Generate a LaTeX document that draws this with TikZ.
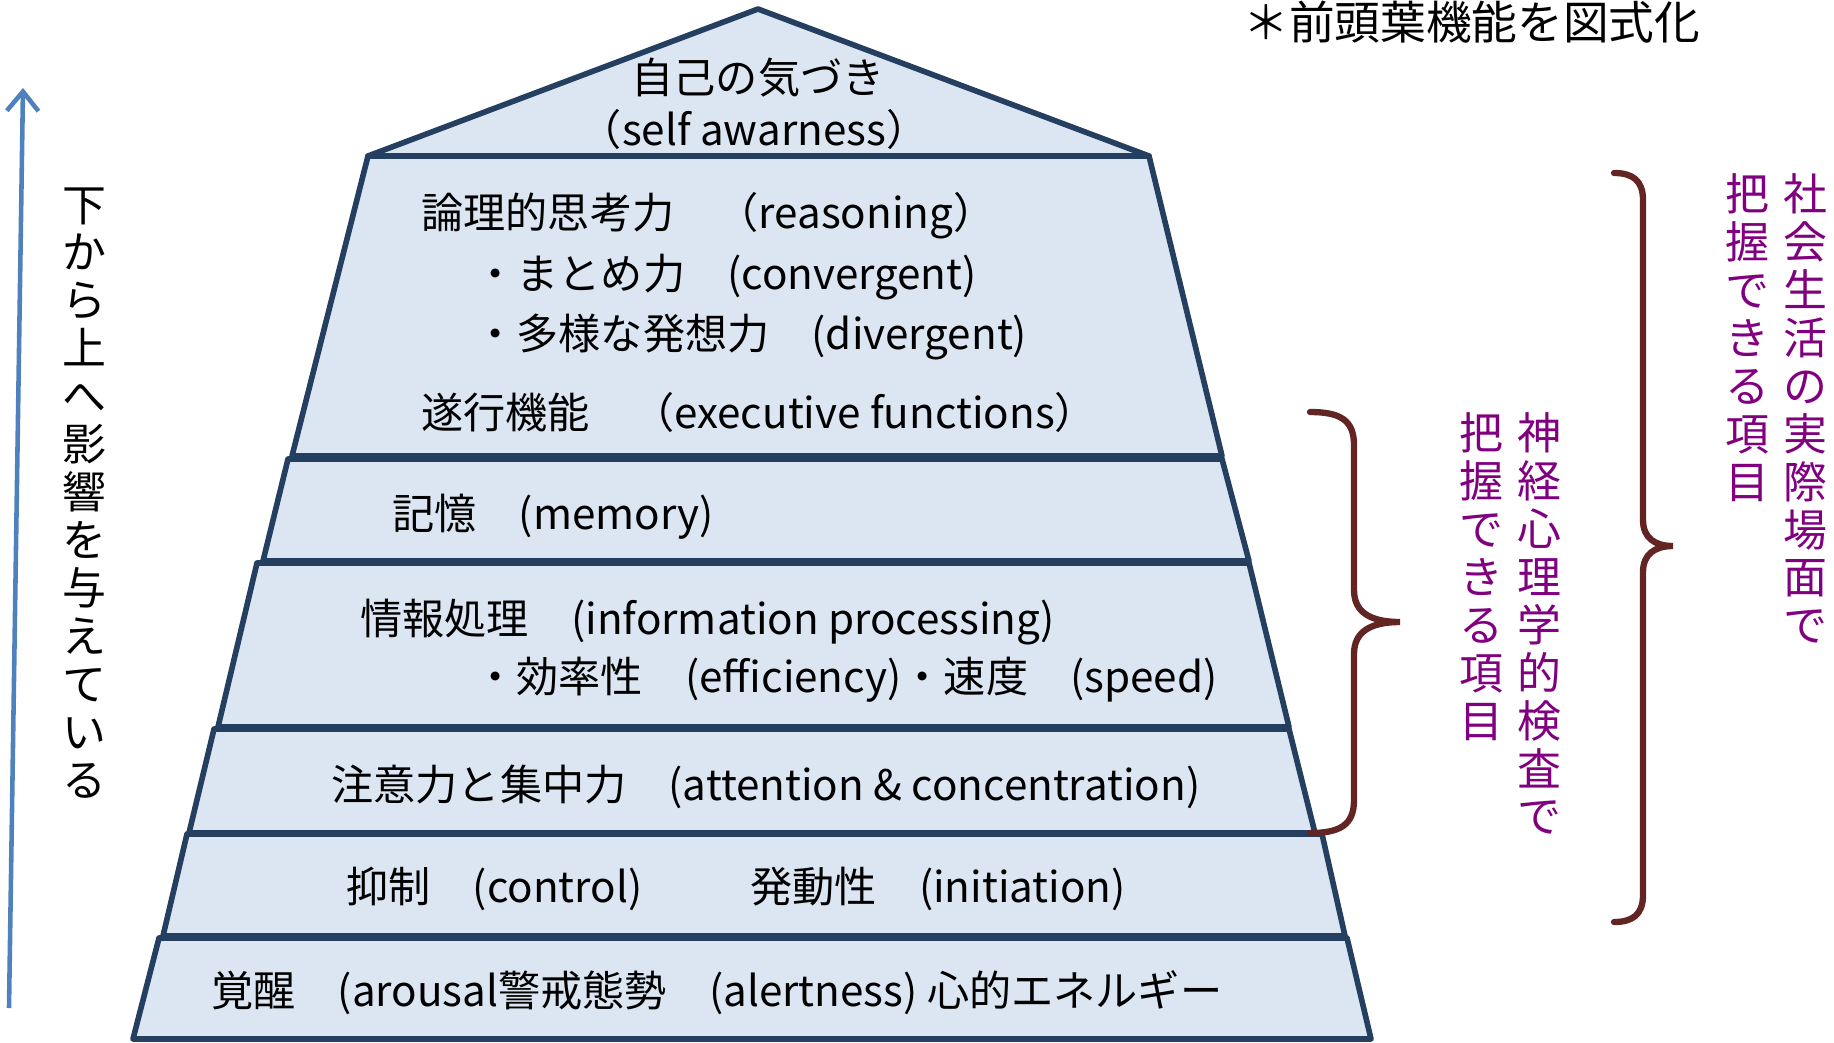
\documentclass[tikz,border=0pt]{standalone}
\usepackage{fontspec}
\setmainfont{Noto Sans CJK JP}
\usetikzlibrary{arrows.meta}

\definecolor{bandfill}{HTML}{DCE6F2}
\definecolor{bandline}{HTML}{243F60}
\definecolor{bracecol}{HTML}{632523}
\definecolor{notecol}{HTML}{800080}
\definecolor{arrowcol}{HTML}{4F81BD}

\begin{document}
\begin{tikzpicture}[x=0.02cm,y=-0.02cm,
  band/.style={fill=bandfill,draw=bandline,line width=3.2pt,line join=round},
  lbl/.style={anchor=west,inner sep=0pt,font=\fontsize{24}{28}\selectfont},
  vlbl/.style={anchor=north,align=center,inner sep=0pt,font=\fontsize{25}{27.3}\selectfont},
  brace/.style={draw=bracecol,line width=3.6pt,line cap=round}]
\useasboundingbox (0,0) rectangle (1834,1042);

% roof and layers
\filldraw[band] (758,9) -- (1149,156) -- (368,156) -- cycle;
\foreach \ty/\tl/\tr/\by/\bl/\br in {156/368/1149/456/292/1222,
    459/288/1222/561/263/1249, 563/257/1249/727/218/1289,
    729/214/1289/833/189/1315, 834/187/1322/936/163/1345,
    938/159/1347/1039/133/1371}
  \filldraw[band] (\tl,\ty) -- (\tr,\ty) -- (\br,\by) -- (\bl,\by) -- cycle;

% texts in the pyramid
\node[lbl,anchor=center] (self) at (758,78) {自己の気づき};
\node[lbl,anchor=center] (selfen) at (754,129) {（self awarness）};
\node[lbl] (reason) at (421,216) {論理的思考力　（reasoning）};
\node[lbl] (conv) at (474,277) {・まとめ力　(convergent)};
\node[lbl] (div) at (474,337) {・多様な発想力　(divergent)};
\node[lbl] (exec) at (421,412) {遂行機能　（executive functions）};
\node[lbl] (mem) at (392,517) {記憶　(memory)};
\node[lbl] (info) at (360,622) {情報処理　(information processing)};
\node[lbl] (eff) at (474,680) {・効率性　(efficiency)・速度　(speed)};
\node[lbl] (att) at (331,787) {注意力と集中力　(attention \& concentration)};
\node[lbl] (ctrl) at (346,889) {抑制　(control)};
\node[lbl] (init) at (750,889) {発動性　(initiation)};
\node[lbl] (arous) at (211,993) {覚醒　(arousal警戒態勢　(alertness) 心的エネルギー};

\node[lbl,font=\fontsize{26}{30}\selectfont] (title) at (1243,22) {＊前頭葉機能を図式化};

% left arrow
\coordinate (up0) at (9,1008);
\coordinate (up1) at (23,88);
\draw[arrowcol,line width=2.6pt,-{Straight Barb[length=11pt,width=18pt]}] (up0) -- (up1);
\node[vlbl] (influence) at (84,187) {下\\か\\ら\\上\\へ\\影\\響\\を\\与\\え\\て\\い\\る};

% braces
\draw[brace] (1310,412) .. controls (1340,412) and (1354,420) .. (1354,445) -- (1354,590)
  .. controls (1354,612) and (1370,622) .. (1400,622)
  .. controls (1370,622) and (1354,632) .. (1354,654) -- (1354,800)
  .. controls (1354,825) and (1340,833) .. (1310,833);
\draw[brace] (1614,173) .. controls (1632,173) and (1643,180) .. (1643,200) -- (1643,520)
  .. controls (1643,538) and (1655,546) .. (1673,546)
  .. controls (1655,546) and (1643,554) .. (1643,572) -- (1643,895)
  .. controls (1643,915) and (1632,922) .. (1614,922);

% purple notes
\node[vlbl,notecol] (neuro) at (1539,412) {神\\経\\心\\理\\学\\的\\検\\査\\で};
\node[vlbl,notecol] (neuro2) at (1481,412) {把\\握\\で\\き\\る\\項\\目};
\node[vlbl,notecol] (social) at (1805,173) {社\\会\\生\\活\\の\\実\\際\\場\\面\\で};
\node[vlbl,notecol] (social2) at (1747,173) {把\\握\\で\\き\\る\\項\\目};
\end{tikzpicture}
\end{document}
